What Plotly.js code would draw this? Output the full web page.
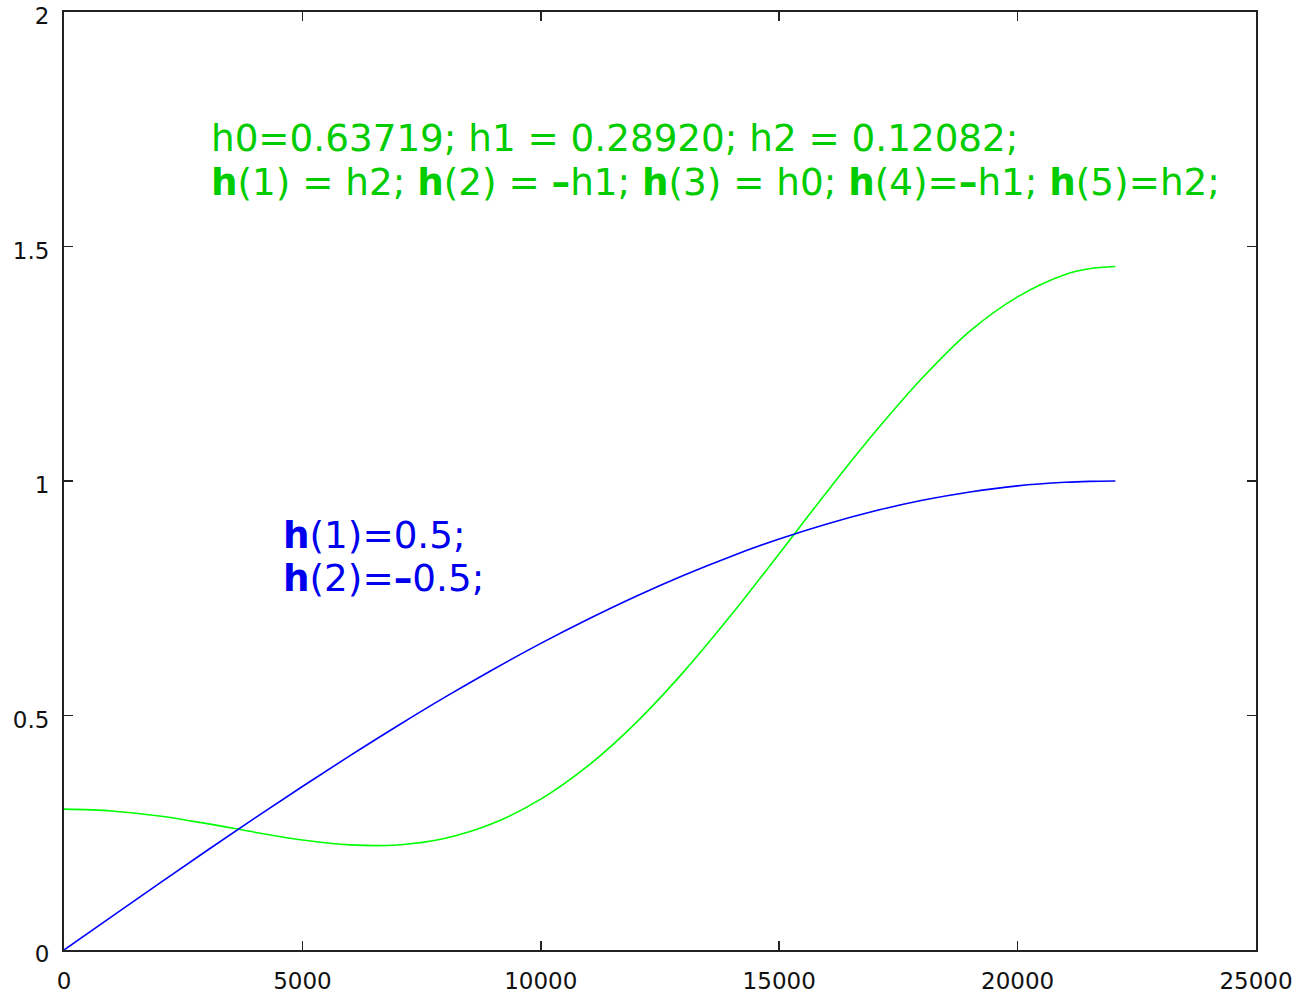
<!DOCTYPE html>
<html>
<head>
<meta charset="utf-8">
<script src="https://cdn.plot.ly/plotly-3.0.1.min.js"></script>
<style>html,body{margin:0;padding:0;background:#fff;}#chart{width:1296px;height:994px;}</style>
</head>
<body>
<div id="chart"></div>
<script>
// Frequency (Hz)
var freq = [0,1000,2000,3000,4000,5000,6000,7000,8000,9000,10000,11000,12000,13000,14000,15000,16000,17000,18000,19000,20000,21000,21500,22050];
// Two-tap filter h = [0.5, -0.5] magnitude (blue)
var blueMag = [0,0.0712,0.1420,0.2121,0.2811,0.3487,0.4145,0.4782,0.5396,0.5981,0.6537,0.7058,0.7544,0.7991,0.8398,0.8764,0.9085,0.9360,0.9588,0.9767,0.9897,0.9972,0.9992,1.0000];
// Five-tap filter magnitude (green)
var greenMag = [0.3004,0.2965,0.2856,0.2694,0.2512,0.2346,0.2241,0.2240,0.2383,0.2701,0.3216,0.3935,0.4849,0.5935,0.7151,0.8450,0.9768,1.1032,1.2196,1.3197,1.3927,1.4403,1.4525,1.4572];

var xTicks = [0,5000,10000,15000,20000,25000];
var yTicks = [0,0.5,1,1.5,2];

var traces = [
  {x: freq, y: greenMag, type:'scatter', mode:'lines', line:{color:'#00ff00', width:1.6, shape:'spline', smoothing:1}, hoverinfo:'skip'},
  {x: freq, y: blueMag, type:'scatter', mode:'lines', line:{color:'#0000ff', width:1.6, shape:'spline', smoothing:1}, hoverinfo:'skip'}
];

var txtFont = "DejaVu Sans, sans-serif";
var green = '#00cc00';
var blue = '#0000ee';
var annotations = [
  {x:3040, y:1.731, xref:'x', yref:'y', xanchor:'left', yanchor:'middle', showarrow:false,
   text:'h0=0.63719; h1 = 0.28920; h2 = 0.12082;', font:{family:txtFont, size:37.3, color:green}},
  {x:3040, y:1.637, xref:'x', yref:'y', xanchor:'left', yanchor:'middle', showarrow:false,
   text:'<b>h</b>(1) = h2; <b>h</b>(2) = <b>–</b>h1; <b>h</b>(3) = h0; <b>h</b>(4)=<b>–</b>h1; <b>h</b>(5)=h2;', font:{family:txtFont, size:37.3, color:green}},
  {x:4560, y:0.885, xref:'x', yref:'y', xanchor:'left', yanchor:'middle', showarrow:false,
   text:'<b>h</b>(1)=0.5;', font:{family:txtFont, size:37.3, color:blue}},
  {x:4560, y:0.793, xref:'x', yref:'y', xanchor:'left', yanchor:'middle', showarrow:false,
   text:'<b>h</b>(2)=<b>–</b>0.5;', font:{family:txtFont, size:37.3, color:blue}}
];

var axisCommon = {
  showgrid:false, zeroline:false, showline:true, linecolor:'#222', linewidth:2,
  mirror:'ticks', ticks:'inside', ticklen:9, tickwidth:1.5, tickcolor:'#222',
  tickfont:{family:'DejaVu Sans, sans-serif', size:23, color:'#111'}
};

var layout = {
  width:1296, height:994,
  margin:{l:64, r:40, t:12, b:44, pad:0},
  paper_bgcolor:'#fff', plot_bgcolor:'#fff',
  showlegend:false,
  xaxis: Object.assign({}, axisCommon, {range:[0,25000], tickvals:xTicks, ticktext:xTicks.map(String), ticklabelstandoff:9}),
  yaxis: Object.assign({}, axisCommon, {range:[0,2], tickvals:yTicks, ticktext:yTicks.map(String), ticklabelstandoff:8, ticklabelshift:4}),
  annotations: annotations
};

Plotly.newPlot('chart', traces, layout, {displayModeBar:false, staticPlot:true});
</script>
</body>
</html>
